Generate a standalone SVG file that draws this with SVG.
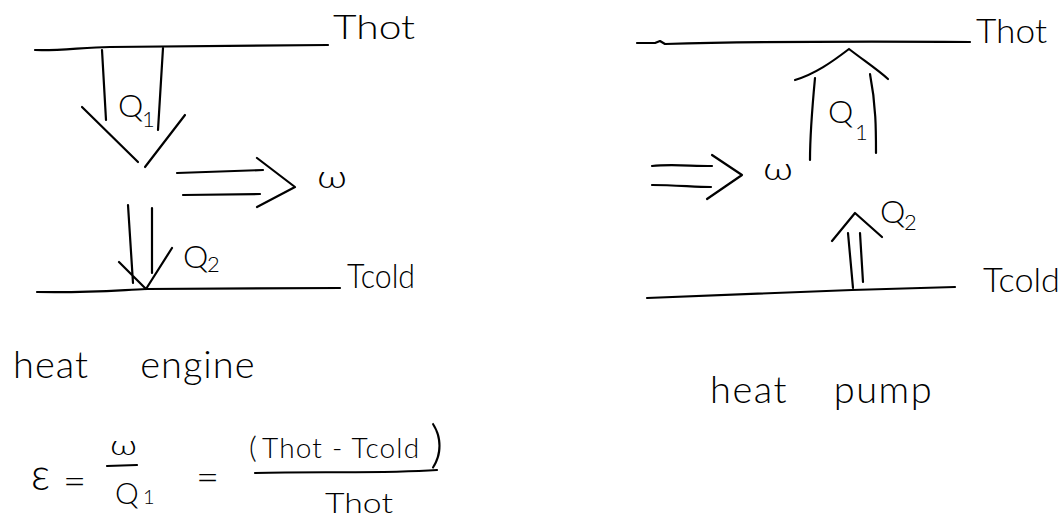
<svg xmlns="http://www.w3.org/2000/svg" width="1061" height="518" viewBox="0 0 1061 518">
  <style>
    .ink { fill: none; stroke: #000; stroke-width: 2.2; stroke-linecap: round; stroke-linejoin: round; }
    text, tspan { font-family: Lato, "Liberation Sans", sans-serif; font-weight: 300; fill: #000; }
    .res { font-size: 34px; }
    .q { font-size: 32px; }
    .sub { font-size: 22px; }
    .w { font-size: 32px; }
    .cap { font-size: 38px; }
    .eq { font-size: 28px; }
  </style>
  <rect width="1061" height="518" fill="#fff"/>

  <!-- Heat engine: reservoirs -->
  <g id="engine-hot">
    <path class="ink" d="M35,50 C60,51 85,47 110,47 L328,45"/>
    <text class="res" x="333" y="39" textLength="82" lengthAdjust="spacingAndGlyphs">Thot</text>
  </g>
  <g id="engine-cold">
    <path class="ink" d="M37,292 C90,293 120,290 146,289 L340,288"/>
    <text class="res" x="347" y="288" textLength="68" lengthAdjust="spacingAndGlyphs">Tcold</text>
  </g>

  <!-- Heat pump: reservoirs -->
  <g id="pump-hot">
    <path class="ink" d="M637,43 L655,43 L660,41 L665,44 C700,43 800,41 970,42"/>
    <text class="res" x="976" y="43" textLength="71" lengthAdjust="spacingAndGlyphs">Thot</text>
  </g>
  <g id="pump-cold">
    <path class="ink" d="M647,298 L852,290 L955,287"/>
    <text class="res" x="983" y="292" textLength="77" lengthAdjust="spacingAndGlyphs">Tcold</text>
  </g>

  <!-- Double-line flow arrows -->
  <g id="connectors">
    <!-- engine: Q1 in from hot -->
    <g id="engine-q1">
      <path class="ink" d="M102,50 L106,120 M163,48 L158,130 M82,107 L138,162 M145,167 L185,115"/>
      <text class="q" x="118" y="117">Q<tspan class="sub" x="142" y="127">1</tspan></text>
    </g>
    <!-- engine: work out -->
    <g id="engine-w">
      <path class="ink" d="M177,173 L263,170 M183,195 L260,194 M257,158 L295,187 L257,207"/>
      <text class="w" x="317" y="188" textLength="30" lengthAdjust="spacingAndGlyphs">ω</text>
    </g>
    <!-- engine: Q2 out to cold -->
    <g id="engine-q2">
      <path class="ink" d="M128,205 L133,283 M152,208 L152,273 M119,262 L146,289 L172,248"/>
      <text class="q" x="183" y="268">Q<tspan class="sub" x="207" y="272">2</tspan></text>
    </g>

    <!-- pump: Q1 out to hot -->
    <g id="pump-q1">
      <path class="ink" d="M815,78 C812,110 810,135 810,160 M870,74 C876,105 876,130 876,153 M795,80 C815,74 832,62 849,49 C866,62 878,70 888,79"/>
      <text class="q" x="828" y="123" font-size="30">Q<tspan class="sub" x="855" y="140">1</tspan></text>
    </g>
    <!-- pump: work in -->
    <g id="pump-w">
      <path class="ink" d="M652,166 C670,164 690,166 712,166 M652,185 C675,185 695,187 711,187 M712,155 L742,175 L707,199"/>
      <text class="w" x="763" y="180" textLength="30" lengthAdjust="spacingAndGlyphs">ω</text>
    </g>
    <!-- pump: Q2 in from cold -->
    <g id="pump-q2">
      <path class="ink" d="M848,233 L853,288 M860,233 L863,282 M832,241 L855,213 L882,237"/>
      <text class="q" x="880" y="223" font-size="30">Q<tspan class="sub" x="904" y="230">2</tspan></text>
    </g>
  </g>

  <!-- Captions -->
  <g id="caption-engine">
    <text class="cap" x="13" y="378" style="word-spacing:40px;letter-spacing:1px">heat engine</text>
  </g>
  <g id="caption-pump">
    <text class="cap" x="710" y="403" style="word-spacing:34px;letter-spacing:1.5px">heat pump</text>
  </g>

  <!-- Efficiency formula -->
  <g id="efficiency">
    <text x="31" y="490" font-size="44" textLength="19" lengthAdjust="spacingAndGlyphs">ε</text>
    <text x="63" y="495" font-size="40">=</text>
    <text x="110" y="455" font-size="28" textLength="27" lengthAdjust="spacingAndGlyphs">ω</text>
    <path class="ink" d="M107,466 L137,465"/>
    <text x="115" y="504" font-size="30">Q<tspan x="143" font-size="20">1</tspan></text>
    <text x="196" y="491" font-size="40">=</text>
    <text class="eq" y="458"><tspan x="249" font-size="30">(</tspan><tspan x="262" style="letter-spacing:1.2px">Thot - Tcold</tspan><tspan x="430" y="462" font-size="52">)</tspan></text>
    <path class="ink" d="M255,473 C320,471 380,474 437,470"/>
    <text class="eq" x="325" y="513" textLength="68" lengthAdjust="spacingAndGlyphs">Thot</text>
  </g>
</svg>
